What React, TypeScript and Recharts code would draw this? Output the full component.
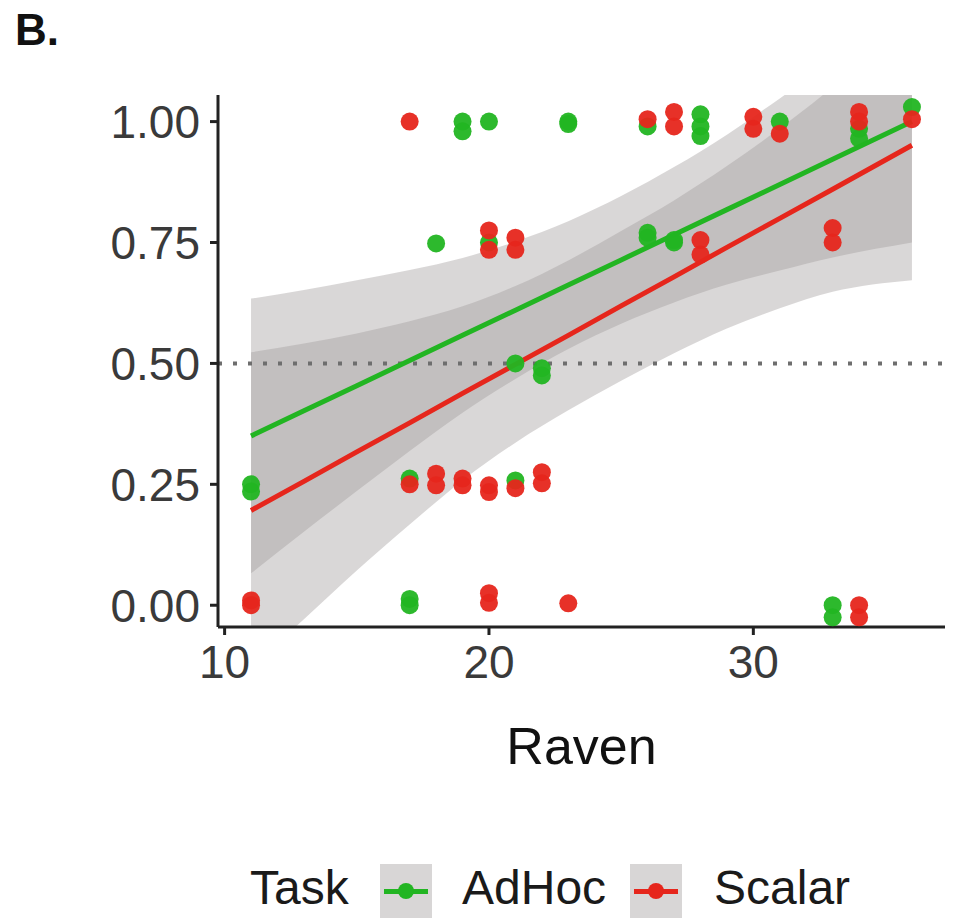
import React from 'react';
import { ComposedChart, Area, Line, Scatter, XAxis, YAxis, ReferenceLine, Label } from 'recharts';

// fitted lines and confidence ribbons at these Raven scores
const bandX = [11, 13, 15, 17, 19, 21, 23, 25, 27, 29, 31, 33, 36];
const adHocFit = [0.35, 0.402, 0.454, 0.506, 0.558, 0.61, 0.662, 0.714, 0.766, 0.818, 0.87, 0.922, 1.0];
const adHocLow = [0.066, 0.152, 0.236, 0.319, 0.398, 0.468, 0.53, 0.582, 0.626, 0.663, 0.692, 0.719, 0.75];
const adHocHigh = [0.634, 0.652, 0.672, 0.693, 0.718, 0.752, 0.794, 0.846, 0.906, 0.973, 1.048, 1.125, 1.25];
const scalarFit = [0.196, 0.256, 0.317, 0.377, 0.438, 0.498, 0.558, 0.619, 0.679, 0.74, 0.8, 0.86, 0.951];
const scalarLow = [-0.131, -0.029, 0.072, 0.167, 0.258, 0.336, 0.403, 0.464, 0.521, 0.572, 0.614, 0.648, 0.672];
const scalarHigh = [0.523, 0.541, 0.562, 0.587, 0.618, 0.66, 0.713, 0.774, 0.837, 0.908, 0.986, 1.072, 1.23];

// jittered observations
const adHocX = [11, 11, 17, 17, 17, 18, 19, 19, 20, 20, 21, 21, 22, 22, 23, 23, 26, 26, 26, 27, 27, 28, 28, 28, 31, 33, 33, 34, 34, 36];
const adHocY = [0.25, 0.235, 0.262, 0.013, 0.0, 0.748, 1.0, 0.98, 1.0, 0.75, 0.5, 0.258, 0.49, 0.475, 1.0, 0.995, 0.99, 0.77, 0.76, 0.75, 0.755, 1.015, 0.99, 0.97, 1.0, 0.0, -0.025, 0.985, 0.965, 1.03];
const scalarX = [11, 11, 17, 17, 18, 18, 19, 19, 20, 20, 20, 20, 20, 20, 21, 21, 21, 22, 22, 23, 26, 27, 27, 28, 28, 30, 30, 31, 33, 33, 34, 34, 34, 34, 36];
const scalarY = [0.01, 0.0, 1.0, 0.25, 0.272, 0.248, 0.262, 0.248, 0.775, 0.735, 0.248, 0.234, 0.025, 0.005, 0.76, 0.735, 0.242, 0.275, 0.252, 0.004, 1.005, 1.02, 0.99, 0.755, 0.725, 1.01, 0.985, 0.975, 0.78, 0.75, 1.02, 1.0, 0.0, -0.025, 1.005];

const yTicks = [0, 0.25, 0.5, 0.75, 1];
const xTicks = [10, 20, 30];
const legendTitle = 'Task';
const seriesNames = ['AdHoc', 'Scalar'];

const GREEN = '#22b522';
const RED = '#e6261c';
const FONT = '"Liberation Sans", Arial, sans-serif';

const bandData = bandX.map((x, i) => ({
  x,
  adHocFit: adHocFit[i],
  adHocBand: [adHocLow[i], adHocHigh[i]],
  scalarFit: scalarFit[i],
  scalarBand: [scalarLow[i], scalarHigh[i]],
}));
const adHocPoints = adHocX.map((x, i) => ({ x, y: adHocY[i] }));
const scalarPoints = scalarX.map((x, i) => ({ x, y: scalarY[i] }));

const dot = (color: string) => (p: any) => <circle cx={p.cx} cy={p.cy} r={9} fill={color} fillOpacity={0.95} />;

const LegendKey = ({ color, left }: { color: string; left: number }) => (
  <div style={{ position: 'absolute', left, top: 864, width: 52, height: 54, background: '#d8d6d6' }}>
    <div style={{ position: 'absolute', left: 4, right: 4, top: 25, height: 5, background: color }} />
    <div style={{ position: 'absolute', left: 18, top: 19, width: 16, height: 16, borderRadius: 8, background: color }} />
  </div>
);

export default function App() {
  const axisStroke = { stroke: '#222', strokeWidth: 3 };
  const legendText = { position: 'absolute' as const, top: 864, fontSize: 48, lineHeight: 1, color: '#1a1a1a' };
  return (
    <div style={{ position: 'absolute', left: 0, top: 0, width: 955, height: 918, background: '#fff', overflow: 'hidden', fontFamily: FONT }}>
      <div style={{ position: 'absolute', left: 15, top: 8, fontSize: 44, fontWeight: 'bold', lineHeight: 1, color: '#111' }}>B.</div>
      <ComposedChart width={955} height={918} data={bandData} margin={{ top: 95, right: 10, bottom: 0, left: 0 }}>
        <XAxis
          type="number"
          dataKey="x"
          domain={[9.75, 37.25]}
          ticks={xTicks}
          allowDataOverflow
          height={291}
          axisLine={axisStroke}
          tickLine={axisStroke}
          tickSize={8}
          tickMargin={10}
          tick={{ fill: '#3a3a3a', fontSize: 46, fontFamily: FONT }}
        >
          <Label value="Raven" position="insideTop" offset={100} style={{ fill: '#111', fontSize: 52, fontFamily: FONT }} />
        </XAxis>
        <YAxis
          type="number"
          domain={[-0.045, 1.055]}
          ticks={yTicks}
          allowDataOverflow
          width={218}
          axisLine={axisStroke}
          tickLine={axisStroke}
          tickSize={8}
          tickMargin={10}
          tickFormatter={(v: number) => v.toFixed(2)}
          tick={{ fill: '#3a3a3a', fontSize: 46, fontFamily: FONT }}
        />
        <Area type="monotone" dataKey="adHocBand" stroke="none" fill="#a09c9c" fillOpacity={0.4} isAnimationActive={false} />
        <Area type="monotone" dataKey="scalarBand" stroke="none" fill="#a09c9c" fillOpacity={0.4} isAnimationActive={false} />
        <ReferenceLine y={0.5} stroke="#6e6e6e" strokeWidth={4} strokeDasharray="4 11" />
        <Line type="linear" dataKey="adHocFit" stroke={GREEN} strokeWidth={5} dot={false} isAnimationActive={false} />
        <Line type="linear" dataKey="scalarFit" stroke={RED} strokeWidth={5} dot={false} isAnimationActive={false} />
        <Scatter data={adHocPoints} dataKey="y" shape={dot(GREEN)} isAnimationActive={false} />
        <Scatter data={scalarPoints} dataKey="y" shape={dot(RED)} isAnimationActive={false} />
      </ComposedChart>
      <div style={{ ...legendText, left: 250 }}>{legendTitle}</div>
      <LegendKey color={GREEN} left={380} />
      <div style={{ ...legendText, left: 462 }}>{seriesNames[0]}</div>
      <LegendKey color={RED} left={630} />
      <div style={{ ...legendText, left: 714 }}>{seriesNames[1]}</div>
    </div>
  );
}
